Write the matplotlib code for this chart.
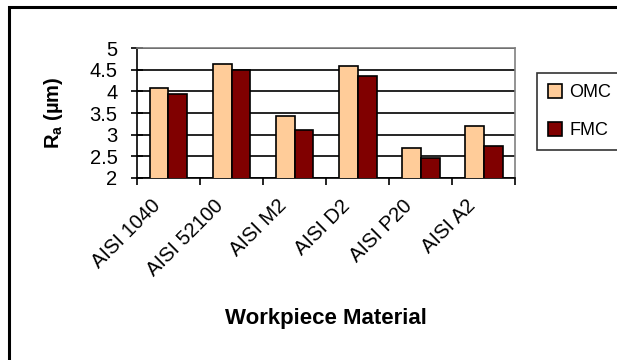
import matplotlib.pyplot as plt
import matplotlib.transforms as mtransforms
import numpy as np
from matplotlib.patches import Rectangle

plt.rcParams['font.family'] = ['Liberation Sans', 'DejaVu Sans']

materials = ['AISI 1040', 'AISI 52100', 'AISI M2', 'AISI D2', 'AISI P20', 'AISI A2']
omc = [4.08, 4.64, 3.43, 4.59, 2.70, 3.20]
fmc = [3.95, 4.49, 3.11, 4.36, 2.46, 2.74]

fig = plt.figure(figsize=(6.17, 3.6), dpi=100)
ax = fig.add_axes([0.222, 0.5056, 0.613, 0.361])

# chart border (runs off the right and bottom edges)
fig.patches.append(Rectangle((9 / 617, -0.1), 1.2, 1 - 7 / 360 + 0.1,
                             transform=fig.transFigure, fill=False,
                             edgecolor='black', linewidth=2.2))

x = np.arange(len(materials))
width = 0.3
ax.bar(x - width / 2, omc, width, color='#ffcc99',
       edgecolor='black', linewidth=1.2, label='OMC', zorder=3)
ax.bar(x + width / 2, fmc, width, color='#800000',
       edgecolor='black', linewidth=1.2, label='FMC', zorder=3)

ax.set_ylim(2, 5)
ax.set_xlim(-0.5, len(materials) - 0.5)
ax.set_yticks(np.arange(2, 5.01, 0.5))
ax.set_yticklabels(['2', '2.5', '3', '3.5', '4', '4.5', '5'], fontsize=14.5)
ax.yaxis.grid(True, color='black', linewidth=1.2, zorder=0)
ax.tick_params(axis='y', direction='inout', length=8, width=1.2, pad=10)

# ticks sit on the category boundaries; rotated names drawn at the centres
ax.set_xticks(np.arange(-0.5, len(materials), 1.0))
ax.set_xticklabels([])
ax.tick_params(axis='x', direction='out', length=5, width=1.2)
label_trans = (mtransforms.blended_transform_factory(ax.transData, ax.transAxes)
               + mtransforms.ScaledTranslation(-0.11, -0.25, fig.dpi_scale_trans))
for i, name in enumerate(materials):
    ax.text(i, 0, name, transform=label_trans, rotation=45, ha='right',
            va='center', rotation_mode='anchor', fontsize=14.5)

for side in ['top', 'right']:
    ax.spines[side].set_color('#808080')
    ax.spines[side].set_linewidth(1.2)
for side in ['left', 'bottom']:
    ax.spines[side].set_color('black')
    ax.spines[side].set_linewidth(1.2)

ax.set_ylabel('R$_\\mathregular{a}$ (µm)', fontsize=14.5, fontweight='bold')
ax.yaxis.set_label_coords(-0.19, 0.5)
ax.set_xlabel('Workpiece Material', fontsize=16, fontweight='bold')
ax.xaxis.set_label_coords(0.5, -1.0)

leg = ax.legend(loc='upper left', bbox_to_anchor=(537 / 617, 287 / 360),
                bbox_transform=fig.transFigure, fontsize=13, frameon=True,
                fancybox=False, edgecolor='black', handlelength=0.8,
                handleheight=0.8, handletextpad=0.4, labelspacing=1.15,
                borderpad=0.6, borderaxespad=0)
leg.get_frame().set_linewidth(1.2)

fig.savefig('out.png', dpi=100)
